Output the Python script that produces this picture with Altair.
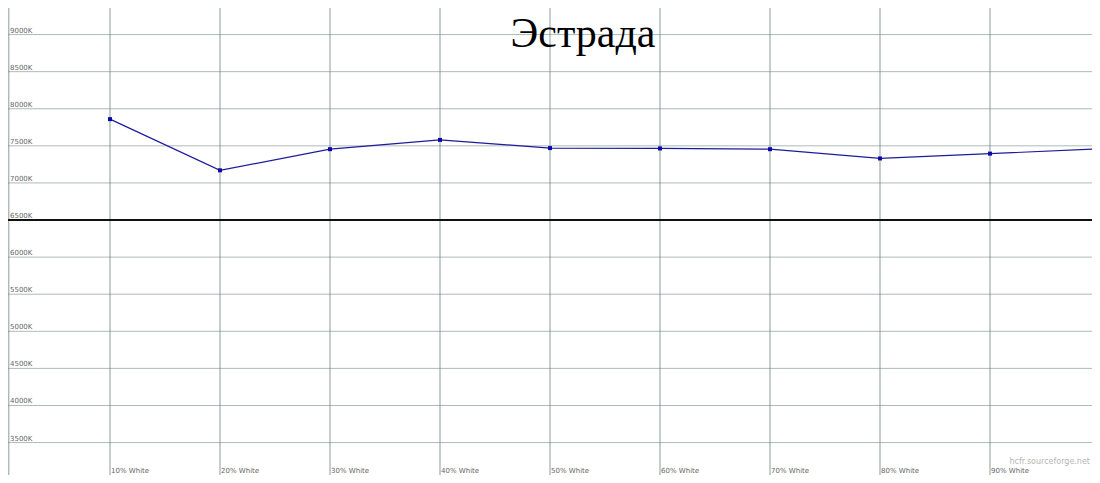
import altair as alt
import pandas as pd

title_text = "Эстрада"
levels = [10, 20, 30, 40, 50, 60, 70, 80, 90, 100]
temps = [7860, 7170, 7455, 7580, 7470, 7465, 7455, 7330, 7395, 7460]
x_label_levels = [10, 20, 30, 40, 50, 60, 70, 80, 90]
x_labels = ["10% White", "20% White", "30% White", "40% White", "50% White",
            "60% White", "70% White", "80% White", "90% White"]
y_ticks = [3500, 4000, 4500, 5000, 5500, 6000, 6500, 7000, 7500, 8000, 8500, 9000]
y_labels = [f"{v}K" for v in y_ticks]
reference_temp = 6500
watermark = "hcfr.sourceforge.net"

W, H = 1100, 483
xs = alt.Scale(domain=[0, 100], range=[0, W], nice=False, zero=False)
ys = alt.Scale(domain=[2955, 9466], nice=False, zero=False)

df = pd.DataFrame({"level": levels, "temp": temps})
vgrid = pd.DataFrame({"level": [0.8] + x_label_levels})
hgrid = pd.DataFrame({"temp": y_ticks, "label": y_labels})
xlab = pd.DataFrame({"level": x_label_levels, "label": x_labels})
ref = pd.DataFrame({"temp": [reference_temp]})

vrules = alt.Chart(vgrid).mark_rule(color="#6f8282", strokeWidth=1, opacity=0.8).encode(
    x=alt.X("level:Q", scale=xs, axis=None)
)
hrules = alt.Chart(hgrid).mark_rule(color="#8a9c9c", strokeWidth=1, opacity=0.7).encode(
    y=alt.Y("temp:Q", scale=ys, axis=None)
)
refrule = alt.Chart(ref).mark_rule(color="#111111", strokeWidth=2).encode(
    y=alt.Y("temp:Q", scale=ys, axis=None)
)
ylabels = alt.Chart(hgrid).mark_text(
    align="left", baseline="bottom", dx=0, dy=-1, fontSize=7, color="#666666", font="DejaVu Sans"
).encode(x=alt.value(10), y=alt.Y("temp:Q", scale=ys, axis=None), text="label:N")
xlabels = alt.Chart(xlab).mark_text(
    align="left", baseline="middle", dx=1, fontSize=7, color="#666666", font="DejaVu Sans"
).encode(x=alt.X("level:Q", scale=xs, axis=None), y=alt.value(471), text="label:N")

line = alt.Chart(df).mark_line(color="#1c1c9a", strokeWidth=1.2).encode(
    x=alt.X("level:Q", scale=xs, axis=None), y=alt.Y("temp:Q", scale=ys, axis=None)
)
pts = alt.Chart(df).mark_point(shape="square", filled=True, size=16, color="#0a0aa8", opacity=1).encode(
    x=alt.X("level:Q", scale=xs, axis=None), y=alt.Y("temp:Q", scale=ys, axis=None)
)

title = alt.Chart(pd.DataFrame({"t": [title_text]})).mark_text(
    fontSize=42, font="Liberation Serif", color="#000000", align="center", baseline="middle"
).encode(x=alt.value(583), y=alt.value(34), text="t:N")

wm = alt.Chart(pd.DataFrame({"t": [watermark]})).mark_text(
    fontSize=8, font="DejaVu Sans", color="#b5b5b5", align="right", baseline="middle"
).encode(x=alt.value(1090), y=alt.value(462), text="t:N")

chart = alt.layer(hrules, vrules, refrule, line, pts, ylabels, xlabels, title, wm).properties(
    width=W, height=H,
    autosize=alt.AutoSizeParams(type="none"),
    padding={"left": -8, "top": -8, "right": -8, "bottom": -8},
).configure_view(stroke=None).configure(background="#ffffff")

chart.save("out.html", embed_options={"renderer": "svg", "actions": False})
